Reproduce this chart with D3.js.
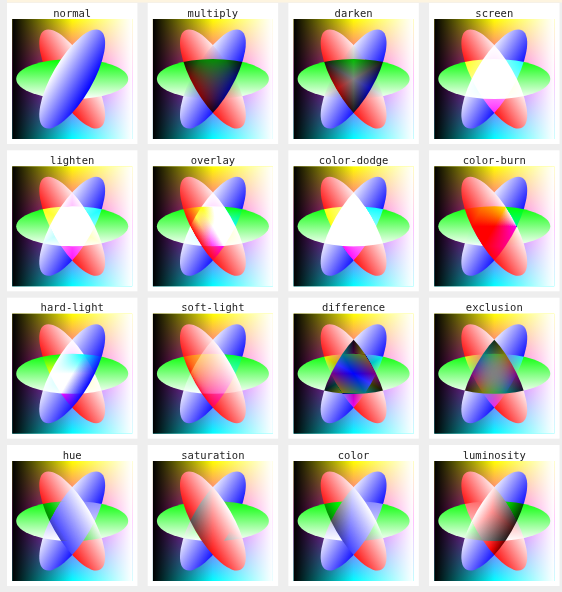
<!DOCTYPE html>
<html>
<head>
<meta charset="utf-8">
<script src="https://cdn.jsdelivr.net/npm/d3@7"></script>
<style>
  body { margin: 0; background: #eee; }
  text { font-family: "DejaVu Sans Mono", monospace; font-size: 10.5px; fill: #222; }
</style>
</head>
<body>
<script>
// blend modes, one per tile, row by row
var modes = [
  "normal", "multiply", "darken", "screen",
  "lighten", "overlay", "color-dodge", "color-burn",
  "hard-light", "soft-light", "difference", "exclusion",
  "hue", "saturation", "color", "luminosity"
];

// the three ellipses, bottom to top
var layers = ["red", "green", "blue"];
var layerColors = ["hsl(0,100%,50%)", "hsl(120,100%,50%)", "hsl(240,100%,50%)"];

// backdrop: top to bottom, then left to right shading
var backdropColors = ["#ff0", "#f0f", "#0ff"];
var shadeColors = ["#000", "#fff"];

// layout
var width = 562, height = 592, cols = 4;
var tileSize = 120;
var layerAngles = [-30, 90, 210];
var ell = {cx: 75, cy: 75, rx: 25, ry: 70};   // in 150-unit tile space

var x = d3.scaleBand().domain(d3.range(cols)).range([7, 559.5]).paddingInner(0.073);
var y = d3.scaleBand().domain(d3.range(Math.ceil(modes.length / cols))).range([3, 586]).paddingInner(0.043);
var u = d3.scaleLinear().domain([0, 150]).range([0, tileSize]);

var svg = d3.select("body").append("svg")
    .attr("width", width)
    .attr("height", height)
    .style("display", "block");

svg.append("rect")
    .attr("width", width)
    .attr("height", height)
    .attr("fill", "#eee");

// thin strip at the very top
svg.append("rect")
    .attr("x", 7)
    .attr("width", width - 7)
    .attr("height", 2.5)
    .attr("fill", "#fdf4e0");

var defs = svg.append("defs");

// ellipse gradients: saturated colour to white along the ellipse's own x axis
layers.forEach(function(name, i) {
  var g = defs.append("linearGradient").attr("id", "grad-" + name);
  g.append("stop").attr("offset", 0).attr("stop-color", layerColors[i]);
  g.append("stop").attr("offset", 1).attr("stop-color", "#fff");
});

var bg = defs.append("linearGradient").attr("id", "backdrop")
    .attr("x1", 0).attr("y1", 0).attr("x2", 0).attr("y2", 1);
backdropColors.forEach(function(c, i) {
  bg.append("stop").attr("offset", i / (backdropColors.length - 1)).attr("stop-color", c);
});

var sh = defs.append("linearGradient").attr("id", "shade");
sh.append("stop").attr("offset", 0).attr("stop-color", shadeColors[0]).attr("stop-opacity", 1);
sh.append("stop").attr("offset", 0.5).attr("stop-color", shadeColors[0]).attr("stop-opacity", 0);
sh.append("stop").attr("offset", 0.5).attr("stop-color", shadeColors[1]).attr("stop-opacity", 0);
sh.append("stop").attr("offset", 1).attr("stop-color", shadeColors[1]).attr("stop-opacity", 1);

var cell = svg.selectAll("g.cell")
    .data(modes)
  .enter().append("g")
    .attr("class", "cell")
    .attr("transform", function(d, i) {
      return "translate(" + x(i % cols) + "," + y(Math.floor(i / cols)) + ")";
    });

cell.append("rect")
    .attr("width", x.bandwidth())
    .attr("height", y.bandwidth())
    .attr("fill", "#fff");

cell.append("text")
    .attr("x", x.bandwidth() / 2)
    .attr("y", 13.5)
    .attr("text-anchor", "middle")
    .text(function(d) { return d; });

var tile = cell.append("g")
    .attr("transform", "translate(" + (x.bandwidth() - tileSize) / 2 + ",16)");

tile.append("rect")
    .attr("width", tileSize)
    .attr("height", tileSize)
    .attr("fill", "url(#backdrop)");

tile.append("rect")
    .attr("width", tileSize)
    .attr("height", tileSize)
    .attr("fill", "url(#shade)");

// ellipses blend with each other only, not with the backdrop
var group = tile.append("g")
    .style("isolation", "isolate");

group.selectAll("ellipse")
    .data(function(mode) {
      return layers.map(function(name, i) { return {mode: mode, name: name, i: i}; });
    })
  .enter().append("ellipse")
    .attr("cx", u(ell.cx))
    .attr("cy", u(ell.cy))
    .attr("rx", u(ell.rx))
    .attr("ry", u(ell.ry))
    .attr("transform", function(d) {
      return "rotate(" + layerAngles[d.i] + "," + u(ell.cx) + "," + u(ell.cy) + ")";
    })
    .attr("fill", function(d) { return "url(#grad-" + d.name + ")"; })
    .style("mix-blend-mode", function(d) { return d.mode; });
</script>
</body>
</html>
